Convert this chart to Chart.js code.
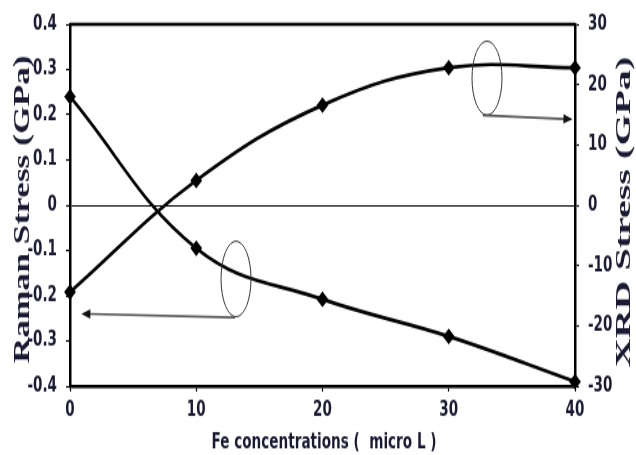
<!DOCTYPE html>
<html>
<head>
<meta charset="utf-8">
<script src="https://cdn.jsdelivr.net/npm/chart.js@4.4.1/dist/chart.umd.min.js"></script>
<style>
    html, body { margin: 0; padding: 0; background: #fff; }
    #chart { display: block; }
</style>
</head>
<body>
<canvas id="chart" width="636" height="337"></canvas>
<script>
const concentrations = [0, 10, 20, 30, 40];
const ramanStress = [0.24, -0.095, -0.208, -0.29, -0.39];
const xrdStress = [-14.4, 4.1, 16.6, 22.8, 22.8];

const xTicks = [0, 10, 20, 30, 40];
const ramanTicks = [-0.4, -0.3, -0.2, -0.1, 0, 0.1, 0.2, 0.3, 0.4];
const xrdTicks = [-30, -20, -10, 0, 10, 20, 30];

const inkColor = "#1a1a33";
const narrowFont = "'Liberation Sans Narrow', 'DejaVu Sans Condensed', sans-serif";

// callout ellipses + arrows, in data units: [cx, cy, rx(px), ry(px), fromX, fromY, toX, toY]
const callouts = [
    [13.15, -0.163, 15, 28, 13.07, -0.248, 0.9, -0.24],
    [33.03, 0.281, 15, 27.4, 32.7, 0.199, 39.8, 0.19]
];

function pointsOf(values) {
    return concentrations.map((c, i) => ({ x: c, y: values[i] }));
}

function fitText(ctx, text, x, y, rot, len) {
    ctx.save();
    ctx.translate(x, y);
    ctx.rotate(rot);
    const w = ctx.measureText(text).width;
    ctx.scale(len / w, 1);
    ctx.fillText(text, 0, 0);
    ctx.restore();
}

const decor = {
    id: "decor",
    afterDraw(chart) {
        const ctx = chart.ctx;
        const area = chart.chartArea;
        const xs = chart.scales.x;
        const ys = chart.scales.y;

        ctx.save();
        // top frame line
        ctx.strokeStyle = "#000";
        ctx.lineWidth = 2.5;
        ctx.beginPath();
        ctx.moveTo(area.left, area.top);
        ctx.lineTo(area.right, area.top);
        ctx.stroke();

        callouts.forEach(c => {
            const cx = xs.getPixelForValue(c[0]);
            const cy = ys.getPixelForValue(c[1]);
            ctx.strokeStyle = "#333";
            ctx.lineWidth = 1;
            ctx.beginPath();
            ctx.ellipse(cx, cy, c[2], c[3], 0, 0, Math.PI * 2);
            ctx.stroke();

            const x1 = xs.getPixelForValue(c[4]);
            const y1 = ys.getPixelForValue(c[5]);
            const x2 = xs.getPixelForValue(c[6]);
            const y2 = ys.getPixelForValue(c[7]);
            const ang = Math.atan2(y2 - y1, x2 - x1);
            ctx.strokeStyle = "#555";
            ctx.lineWidth = 1.6;
            ctx.beginPath();
            ctx.moveTo(x1, y1);
            ctx.lineTo(x2 - 8 * Math.cos(ang), y2 - 8 * Math.sin(ang));
            ctx.stroke();
            ctx.fillStyle = "#111";
            ctx.beginPath();
            ctx.moveTo(x2, y2);
            ctx.lineTo(x2 - 9 * Math.cos(ang) + 3.5 * Math.sin(ang), y2 - 9 * Math.sin(ang) - 3.5 * Math.cos(ang));
            ctx.lineTo(x2 - 9 * Math.cos(ang) - 3.5 * Math.sin(ang), y2 - 9 * Math.sin(ang) + 3.5 * Math.cos(ang));
            ctx.closePath();
            ctx.fill();
        });

        // axis titles
        ctx.fillStyle = inkColor;
        ctx.textAlign = "center";
        ctx.textBaseline = "middle";
        ctx.font = "bold 23px 'Liberation Serif', serif";
        fitText(ctx, "Raman Stress (GPa)", 23, 155, -Math.PI / 2, 228);
        ctx.font = "bold 22px 'Liberation Serif', serif";
        fitText(ctx, "XRD Stress (GPa)", 624, 157, -Math.PI / 2, 230);
        ctx.font = "bold 15.5px " + narrowFont;
        fitText(ctx, "Fe concentrations (  micro L )", 324, 328, 0, 225);
        ctx.restore();
    }
};

const tickFont = { family: narrowFont, size: 15, weight: "bold" };

const canvas = document.getElementById("chart");
new Chart(canvas, {
    type: "line",
    data: {
        datasets: [
            {
                label: "Raman Stress (GPa)",
                data: pointsOf(ramanStress),
                yAxisID: "y",
                borderColor: "#000",
                backgroundColor: "#000",
                borderWidth: 2.7,
                tension: 0.4,
                pointStyle: "rectRot",
                pointRadius: 4,
                clip: false
            },
            {
                label: "XRD Stress (GPa)",
                data: pointsOf(xrdStress),
                yAxisID: "y2",
                borderColor: "#000",
                backgroundColor: "#000",
                borderWidth: 2.7,
                tension: 0.4,
                pointStyle: "rectRot",
                pointRadius: 4,
                clip: false
            }
        ]
    },
    options: {
        responsive: false,
        animation: false,
        devicePixelRatio: 1,
        layout: { padding: { top: 16, left: 0, right: 0, bottom: 0 } },
        plugins: { legend: { display: false }, tooltip: { enabled: false } },
        scales: {
            x: {
                type: "linear",
                min: 0,
                max: 40,
                afterBuildTicks: s => { s.ticks = xTicks.map(v => ({ value: v })); },
                afterFit: s => { s.height = 51; },
                grid: { drawOnChartArea: false, tickLength: 4, tickColor: "#000", tickWidth: 1.2 },
                border: { color: "#000", width: 2.5 },
                ticks: { color: inkColor, font: tickFont, padding: 5, maxRotation: 0 }
            },
            y: {
                position: "left",
                min: -0.4,
                max: 0.4,
                afterBuildTicks: s => { s.ticks = ramanTicks.map(v => ({ value: v })); },
                afterFit: s => { s.width = 70; },
                grid: {
                    color: ctx => (ctx.tick && ctx.tick.value === 0 ? "#000" : "rgba(0,0,0,0)"),
                    lineWidth: 1,
                    tickLength: 4,
                    tickColor: "#000",
                    tickWidth: 1.2
                },
                border: { color: "#000", width: 2.5 },
                ticks: {
                    color: inkColor,
                    font: tickFont,
                    padding: 9,
                    callback: v => String(Math.round(v * 10) / 10)
                }
            },
            y2: {
                position: "right",
                min: -30,
                max: 30,
                afterBuildTicks: s => { s.ticks = xrdTicks.map(v => ({ value: v })); },
                afterFit: s => { s.width = 61; },
                grid: { drawOnChartArea: false, tickLength: 4, tickColor: "#000", tickWidth: 1.2 },
                border: { color: "#000", width: 2.5 },
                ticks: { color: inkColor, font: tickFont, padding: 9 }
            }
        }
    },
    plugins: [decor]
});

// the original picture is stretched vertically; show the bitmap the same way
canvas.style.width = "636px";
canvas.style.height = "455px";
</script>
</body>
</html>
